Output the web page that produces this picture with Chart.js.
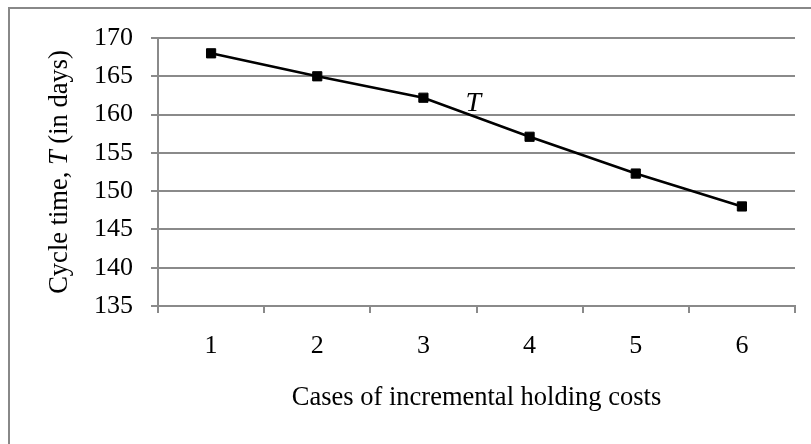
<!DOCTYPE html>
<html>
<head>
<meta charset="utf-8">
<script src="https://cdn.jsdelivr.net/npm/chart.js@4/dist/chart.umd.min.js"></script>
<style>
  html, body { margin: 0; padding: 0; background: #fff; overflow: hidden; }
  #frame { position: absolute; left: 8px; top: 7px; width: 900px; height: 500px; border: 2px solid #888; }
  #chart { position: absolute; left: 0; top: 0; }
</style>
</head>
<body>
<div id="frame"></div>
<canvas id="chart" width="811" height="444"></canvas>
<script>
// data
const cases = ['1', '2', '3', '4', '5', '6'];
const cycleTime = [168, 165, 162.2, 157.1, 152.3, 148];
const yTicks = { min: 135, max: 170, step: 5 };
const seriesLabel = 'T';

const serif = '"Liberation Serif", "Times New Roman", serif';
const grey = '#8a8a8a';

// y title has an italic T in the middle, so draw it by hand
const extraText = {
  id: 'extraText',
  afterDraw(chart) {
    const { ctx, chartArea, scales } = chart;
    ctx.save();
    ctx.fillStyle = '#000';
    ctx.textBaseline = 'middle';

    const parts = [
      { t: 'Cycle time, ', f: '26.5px ' + serif },
      { t: 'T', f: 'italic 26.5px ' + serif },
      { t: ' (in days)', f: '26.5px ' + serif }
    ];
    let total = 0;
    parts.forEach(p => { ctx.font = p.f; p.w = ctx.measureText(p.t).width; total += p.w; });
    ctx.translate(60, (chartArea.top + chartArea.bottom) / 2);
    ctx.rotate(-Math.PI / 2);
    let x = -total / 2;
    ctx.textAlign = 'left';
    parts.forEach(p => { ctx.font = p.f; ctx.fillText(p.t, x, 0); x += p.w; });
    ctx.restore();

    // series label next to the line
    ctx.save();
    ctx.font = 'italic 28px ' + serif;
    ctx.fillStyle = '#000';
    ctx.textAlign = 'center';
    ctx.textBaseline = 'middle';
    ctx.fillText(seriesLabel, scales.x.getPixelForValue(2.47), scales.y.getPixelForValue(161.4));
    ctx.restore();
  }
};

new Chart(document.getElementById('chart'), {
  type: 'line',
  data: {
    labels: cases,
    datasets: [{
      label: seriesLabel,
      data: cycleTime,
      borderColor: '#000',
      backgroundColor: '#000',
      borderWidth: 2.5,
      pointStyle: 'rect',
      pointRadius: 6.5,
      pointBorderWidth: 1,
      tension: 0
    }]
  },
  options: {
    responsive: false,
    animation: false,
    layout: { padding: { left: 0, top: 38, right: 16, bottom: 0 } },
    plugins: { legend: { display: false }, tooltip: { enabled: false } },
    scales: {
      x: {
        offset: true,
        afterFit: s => { s.height = 138; },
        grid: { drawOnChartArea: false, offset: true, tickLength: 7, color: grey, lineWidth: 2 },
        border: { color: grey, width: 2 },
        ticks: { color: '#000', padding: 18, font: { family: serif, size: 26 } },
        title: {
          display: true,
          text: 'Cases of incremental holding costs',
          color: '#000',
          padding: { bottom: 30 },
          font: { family: serif, size: 26.5 }
        }
      },
      y: {
        min: yTicks.min,
        max: yTicks.max,
        afterFit: s => { s.width = 158; },
        grid: { tickLength: 7, color: grey, lineWidth: 2 },
        border: { color: grey, width: 2 },
        ticks: { stepSize: yTicks.step, color: '#000', padding: 18, font: { family: serif, size: 26 } }
      }
    }
  },
  plugins: [extraText]
});
</script>
</body>
</html>
